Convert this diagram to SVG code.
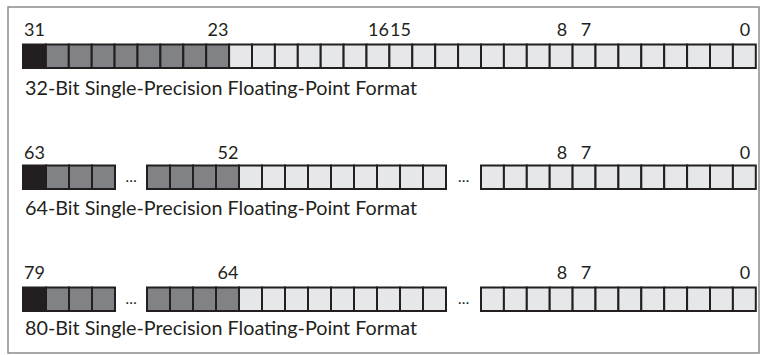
<svg xmlns="http://www.w3.org/2000/svg" width="761" height="355" viewBox="0 0 761 355">
<style>
.k{fill:#231f20;stroke:#231f20;stroke-width:2}
.g{fill:#808285;stroke:#231f20;stroke-width:2}
.l{fill:#e6e7e8;stroke:#231f20;stroke-width:2}
.n{font-family:Lato,"Liberation Sans",sans-serif;font-size:18px;fill:#231f20;text-anchor:middle}
.c{font-family:Lato,"Liberation Sans",sans-serif;font-size:19px;fill:#231f20}
.d{font-family:Lato,"Liberation Sans",sans-serif;font-size:15px;fill:#231f20;text-anchor:middle}
</style>
<rect x="8" y="7" width="751" height="346" fill="#ffffff" stroke="#8a8a8a" stroke-width="1.5"/>
<g id="row32">
<rect class="k" x="23" y="44.5" width="22.9" height="23.5"/>
<rect class="g" x="45.9" y="44.5" width="22.9" height="23.5"/>
<rect class="g" x="68.8" y="44.5" width="22.9" height="23.5"/>
<rect class="g" x="91.7" y="44.5" width="22.9" height="23.5"/>
<rect class="g" x="114.6" y="44.5" width="22.9" height="23.5"/>
<rect class="g" x="137.5" y="44.5" width="22.9" height="23.5"/>
<rect class="g" x="160.4" y="44.5" width="22.9" height="23.5"/>
<rect class="g" x="183.3" y="44.5" width="22.9" height="23.5"/>
<rect class="g" x="206.2" y="44.5" width="22.9" height="23.5"/>
<rect class="l" x="229.1" y="44.5" width="22.9" height="23.5"/>
<rect class="l" x="252" y="44.5" width="22.9" height="23.5"/>
<rect class="l" x="274.9" y="44.5" width="22.9" height="23.5"/>
<rect class="l" x="297.8" y="44.5" width="22.9" height="23.5"/>
<rect class="l" x="320.7" y="44.5" width="22.9" height="23.5"/>
<rect class="l" x="343.6" y="44.5" width="22.9" height="23.5"/>
<rect class="l" x="366.5" y="44.5" width="22.9" height="23.5"/>
<rect class="l" x="389.4" y="44.5" width="22.9" height="23.5"/>
<rect class="l" x="412.3" y="44.5" width="22.9" height="23.5"/>
<rect class="l" x="435.2" y="44.5" width="22.9" height="23.5"/>
<rect class="l" x="458.1" y="44.5" width="22.9" height="23.5"/>
<rect class="l" x="481" y="44.5" width="22.9" height="23.5"/>
<rect class="l" x="503.9" y="44.5" width="22.9" height="23.5"/>
<rect class="l" x="526.8" y="44.5" width="22.9" height="23.5"/>
<rect class="l" x="549.7" y="44.5" width="22.9" height="23.5"/>
<rect class="l" x="572.6" y="44.5" width="22.9" height="23.5"/>
<rect class="l" x="595.5" y="44.5" width="22.9" height="23.5"/>
<rect class="l" x="618.4" y="44.5" width="22.9" height="23.5"/>
<rect class="l" x="641.3" y="44.5" width="22.9" height="23.5"/>
<rect class="l" x="664.2" y="44.5" width="22.9" height="23.5"/>
<rect class="l" x="687.1" y="44.5" width="22.9" height="23.5"/>
<rect class="l" x="710" y="44.5" width="22.9" height="23.5"/>
<rect class="l" x="732.9" y="44.5" width="22.9" height="23.5"/>
<text class="n" x="34.5" y="36">31</text>
<text class="n" x="218" y="36">23</text>
<text class="n" x="378.5" y="36">16</text>
<text class="n" x="400.5" y="36">15</text>
<text class="n" x="562" y="36">8</text>
<text class="n" x="586" y="36">7</text>
<text class="n" x="745" y="36">0</text>
<text class="c" x="25" y="94.5" textLength="392" lengthAdjust="spacingAndGlyphs">32-Bit Single-Precision Floating-Point Format</text>
</g>
<g id="row64">
<rect class="k" x="23" y="165.5" width="23" height="23.5"/>
<rect class="g" x="46" y="165.5" width="23" height="23.5"/>
<rect class="g" x="69" y="165.5" width="23" height="23.5"/>
<rect class="g" x="92" y="165.5" width="23" height="23.5"/>
<text class="d" x="131" y="182">…</text>
<rect class="g" x="147" y="165.5" width="23" height="23.5"/>
<rect class="g" x="170" y="165.5" width="23" height="23.5"/>
<rect class="g" x="193" y="165.5" width="23" height="23.5"/>
<rect class="g" x="216" y="165.5" width="23" height="23.5"/>
<rect class="l" x="239" y="165.5" width="23" height="23.5"/>
<rect class="l" x="262" y="165.5" width="23" height="23.5"/>
<rect class="l" x="285" y="165.5" width="23" height="23.5"/>
<rect class="l" x="308" y="165.5" width="23" height="23.5"/>
<rect class="l" x="331" y="165.5" width="23" height="23.5"/>
<rect class="l" x="354" y="165.5" width="23" height="23.5"/>
<rect class="l" x="377" y="165.5" width="23" height="23.5"/>
<rect class="l" x="400" y="165.5" width="23" height="23.5"/>
<rect class="l" x="423" y="165.5" width="23" height="23.5"/>
<text class="d" x="463.5" y="182">…</text>
<rect class="l" x="481" y="165.5" width="22.9" height="23.5"/>
<rect class="l" x="503.9" y="165.5" width="22.9" height="23.5"/>
<rect class="l" x="526.8" y="165.5" width="22.9" height="23.5"/>
<rect class="l" x="549.7" y="165.5" width="22.9" height="23.5"/>
<rect class="l" x="572.6" y="165.5" width="22.9" height="23.5"/>
<rect class="l" x="595.5" y="165.5" width="22.9" height="23.5"/>
<rect class="l" x="618.4" y="165.5" width="22.9" height="23.5"/>
<rect class="l" x="641.3" y="165.5" width="22.9" height="23.5"/>
<rect class="l" x="664.2" y="165.5" width="22.9" height="23.5"/>
<rect class="l" x="687.1" y="165.5" width="22.9" height="23.5"/>
<rect class="l" x="710" y="165.5" width="22.9" height="23.5"/>
<rect class="l" x="732.9" y="165.5" width="22.9" height="23.5"/>
<text class="n" x="34.5" y="158.5">63</text>
<text class="n" x="228" y="158.5">52</text>
<text class="n" x="562" y="158.5">8</text>
<text class="n" x="586" y="158.5">7</text>
<text class="n" x="745" y="158.5">0</text>
<text class="c" x="25" y="214.5" textLength="392" lengthAdjust="spacingAndGlyphs">64-Bit Single-Precision Floating-Point Format</text>
</g>
<g id="row80">
<rect class="k" x="23" y="287.5" width="23" height="23.5"/>
<rect class="g" x="46" y="287.5" width="23" height="23.5"/>
<rect class="g" x="69" y="287.5" width="23" height="23.5"/>
<rect class="g" x="92" y="287.5" width="23" height="23.5"/>
<text class="d" x="131" y="304">…</text>
<rect class="g" x="147" y="287.5" width="23" height="23.5"/>
<rect class="g" x="170" y="287.5" width="23" height="23.5"/>
<rect class="g" x="193" y="287.5" width="23" height="23.5"/>
<rect class="g" x="216" y="287.5" width="23" height="23.5"/>
<rect class="l" x="239" y="287.5" width="23" height="23.5"/>
<rect class="l" x="262" y="287.5" width="23" height="23.5"/>
<rect class="l" x="285" y="287.5" width="23" height="23.5"/>
<rect class="l" x="308" y="287.5" width="23" height="23.5"/>
<rect class="l" x="331" y="287.5" width="23" height="23.5"/>
<rect class="l" x="354" y="287.5" width="23" height="23.5"/>
<rect class="l" x="377" y="287.5" width="23" height="23.5"/>
<rect class="l" x="400" y="287.5" width="23" height="23.5"/>
<rect class="l" x="423" y="287.5" width="23" height="23.5"/>
<text class="d" x="463.5" y="304">…</text>
<rect class="l" x="481" y="287.5" width="22.9" height="23.5"/>
<rect class="l" x="503.9" y="287.5" width="22.9" height="23.5"/>
<rect class="l" x="526.8" y="287.5" width="22.9" height="23.5"/>
<rect class="l" x="549.7" y="287.5" width="22.9" height="23.5"/>
<rect class="l" x="572.6" y="287.5" width="22.9" height="23.5"/>
<rect class="l" x="595.5" y="287.5" width="22.9" height="23.5"/>
<rect class="l" x="618.4" y="287.5" width="22.9" height="23.5"/>
<rect class="l" x="641.3" y="287.5" width="22.9" height="23.5"/>
<rect class="l" x="664.2" y="287.5" width="22.9" height="23.5"/>
<rect class="l" x="687.1" y="287.5" width="22.9" height="23.5"/>
<rect class="l" x="710" y="287.5" width="22.9" height="23.5"/>
<rect class="l" x="732.9" y="287.5" width="22.9" height="23.5"/>
<text class="n" x="34.5" y="279">79</text>
<text class="n" x="228" y="279">64</text>
<text class="n" x="562" y="279">8</text>
<text class="n" x="586" y="279">7</text>
<text class="n" x="745" y="279">0</text>
<text class="c" x="25" y="334.5" textLength="392" lengthAdjust="spacingAndGlyphs">80-Bit Single-Precision Floating-Point Format</text>
</g>
</svg>
